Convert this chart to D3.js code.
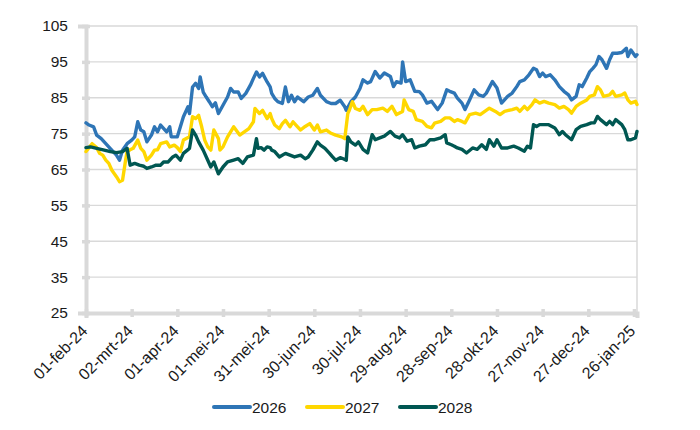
<!DOCTYPE html>
<html>
<head>
<meta charset="utf-8">
<script src="https://cdn.jsdelivr.net/npm/d3@7"></script>
<style>
  html, body { margin: 0; padding: 0; background: #ffffff; }
  svg { display: block; font-family: "Liberation Sans", Arial, sans-serif; }
</style>
</head>
<body>
<svg id="chart" width="700" height="430"></svg>
<script>
// ---------- data ----------
const seriesNames = ["2026", "2027", "2028"];

const dates2026 = ["2024-02-01","2024-02-03","2024-02-06","2024-02-08","2024-02-11","2024-02-14","2024-02-17","2024-02-21","2024-02-23","2024-02-25","2024-02-28","2024-03-02","2024-03-04","2024-03-06","2024-03-08","2024-03-10","2024-03-12","2024-03-15","2024-03-17","2024-03-19","2024-03-21","2024-03-25","2024-03-27","2024-03-28","2024-04-01","2024-04-03","2024-04-05","2024-04-08","2024-04-09","2024-04-11","2024-04-13","2024-04-15","2024-04-16","2024-04-18","2024-04-20","2024-04-22","2024-04-24","2024-04-26","2024-04-28","2024-05-01","2024-05-04","2024-05-06","2024-05-08","2024-05-11","2024-05-13","2024-05-16","2024-05-19","2024-05-21","2024-05-23","2024-05-25","2024-05-27","2024-05-30","2024-06-01","2024-06-02","2024-06-04","2024-06-06","2024-06-09","2024-06-11","2024-06-13","2024-06-15","2024-06-17","2024-06-19","2024-06-23","2024-06-26","2024-06-29","2024-07-02","2024-07-04","2024-07-08","2024-07-11","2024-07-14","2024-07-17","2024-07-20","2024-07-21","2024-07-24","2024-07-27","2024-07-30","2024-08-01","2024-08-04","2024-08-06","2024-08-09","2024-08-12","2024-08-15","2024-08-19","2024-08-21","2024-08-23","2024-08-26","2024-08-27","2024-08-29","2024-09-01","2024-09-04","2024-09-07","2024-09-09","2024-09-12","2024-09-15","2024-09-19","2024-09-22","2024-09-25","2024-09-27","2024-09-30","2024-10-02","2024-10-05","2024-10-07","2024-10-10","2024-10-13","2024-10-16","2024-10-19","2024-10-21","2024-10-25","2024-10-28","2024-10-31","2024-11-04","2024-11-07","2024-11-10","2024-11-12","2024-11-15","2024-11-18","2024-11-21","2024-11-23","2024-11-25","2024-11-27","2024-11-29","2024-12-02","2024-12-05","2024-12-08","2024-12-11","2024-12-14","2024-12-16","2024-12-19","2024-12-21","2024-12-23","2024-12-26","2024-12-28","2024-12-30","2025-01-01","2025-01-03","2025-01-05","2025-01-08","2025-01-10","2025-01-12","2025-01-15","2025-01-18","2025-01-21","2025-01-22","2025-01-24","2025-01-27","2025-01-28"];
const values2026 = [78,77.4,76.9,74.6,73.6,72.2,70.8,69,67.6,70.4,72.2,73.2,74.1,78.3,76,75.5,72.7,74.6,76.9,75.5,77.4,75.5,76.9,74.1,74.1,76.9,79.7,82.5,80.6,88,89,87.6,90.8,86.6,85.2,83.9,82.5,83.6,80.6,82.9,85.2,87.6,86.6,86.6,84.8,86.2,88.5,90.4,92.2,90.8,91.8,89.4,88,86.2,84.8,83.9,83.4,88,83.9,85.7,83.9,85.2,83.9,85.2,85.7,87.6,85.7,83.9,83.4,83.4,84.3,82.5,81.5,83.9,85.2,87.6,90,89.1,89.5,92.3,90.5,91.9,90.9,88.1,89.5,89.1,95,89.5,90,86.8,86.7,85.8,83.5,84,81.7,83.5,87.2,86.8,86.3,84.9,83.5,81.7,84.4,87.2,85.8,85.4,86.3,89.5,87.7,83.5,85.4,86.3,88.1,89.5,90,91.4,93.2,92.8,90.9,91.9,90.9,91.4,90,88.1,86.8,85.8,84.4,85.4,88.6,88.1,90.5,92.3,93.2,94.2,96.5,95.6,93.2,95.6,97.4,97.4,97.6,98.8,96.5,98.3,96.5,97];

const dates2027 = ["2024-02-01","2024-02-03","2024-02-05","2024-02-08","2024-02-10","2024-02-12","2024-02-14","2024-02-16","2024-02-18","2024-02-21","2024-02-23","2024-02-25","2024-02-27","2024-02-28","2024-03-01","2024-03-03","2024-03-06","2024-03-08","2024-03-10","2024-03-12","2024-03-15","2024-03-17","2024-03-19","2024-03-21","2024-03-25","2024-03-27","2024-03-30","2024-04-01","2024-04-03","2024-04-05","2024-04-09","2024-04-11","2024-04-13","2024-04-15","2024-04-17","2024-04-19","2024-04-21","2024-04-23","2024-04-25","2024-04-28","2024-04-29","2024-05-01","2024-05-04","2024-05-06","2024-05-08","2024-05-12","2024-05-15","2024-05-18","2024-05-21","2024-05-22","2024-05-25","2024-05-27","2024-05-30","2024-06-01","2024-06-02","2024-06-04","2024-06-07","2024-06-09","2024-06-11","2024-06-14","2024-06-16","2024-06-19","2024-06-21","2024-06-24","2024-06-27","2024-06-30","2024-07-02","2024-07-04","2024-07-08","2024-07-11","2024-07-14","2024-07-18","2024-07-20","2024-07-22","2024-07-23","2024-07-25","2024-07-27","2024-07-30","2024-08-01","2024-08-04","2024-08-07","2024-08-10","2024-08-14","2024-08-17","2024-08-20","2024-08-23","2024-08-27","2024-08-28","2024-08-31","2024-09-03","2024-09-05","2024-09-09","2024-09-12","2024-09-15","2024-09-17","2024-09-21","2024-09-24","2024-09-27","2024-09-30","2024-10-02","2024-10-05","2024-10-07","2024-10-10","2024-10-14","2024-10-17","2024-10-20","2024-10-23","2024-10-27","2024-10-30","2024-11-02","2024-11-07","2024-11-10","2024-11-12","2024-11-15","2024-11-17","2024-11-20","2024-11-22","2024-11-25","2024-11-28","2024-12-01","2024-12-05","2024-12-08","2024-12-11","2024-12-14","2024-12-16","2024-12-19","2024-12-22","2024-12-26","2024-12-28","2024-12-31","2025-01-02","2025-01-04","2025-01-06","2025-01-10","2025-01-12","2025-01-14","2025-01-18","2025-01-20","2025-01-22","2025-01-24","2025-01-27","2025-01-28"];
const values2027 = [70,71.1,72.2,71.1,69.5,69,67.6,66.7,64.8,63,61.6,62,67.6,70,70.5,70.9,73.2,70.9,70,67.6,69,70.4,70.5,72.2,72.7,71.3,71.8,71.1,70,73.2,74.1,79.7,79.2,80.1,76.9,73.2,71.3,70.4,76,73.6,70.4,71.3,74.1,75.5,76.9,74.6,75.5,76.4,78.3,82,80.6,81.5,79.2,80.6,79.2,77.4,76.4,77.8,78.7,76.9,78.3,76.9,76,77,77.8,76,77.4,75.5,76,75.1,74.6,74.1,73.6,80.6,81.5,83.9,82,81.5,82.6,80.3,81.7,81.7,82.1,81.2,82.6,80.3,81.2,84.4,81.7,81.2,78.9,78.4,77,76.6,77.9,78.4,79.4,79.4,78.4,78.9,78.4,78,80.3,80.7,80.3,81.2,82.1,81.2,80.3,81.2,81.7,82.1,81.2,82.6,81.7,83.1,84.4,83.5,84,83.5,83.1,82.1,82.6,81.7,80.7,82.6,83.5,84.4,85.4,85.8,88.1,87.2,85.4,85.8,86.8,85.4,85.8,86.3,84.4,83.5,84,83.1];

const dates2028 = ["2024-02-01","2024-02-04","2024-02-08","2024-02-13","2024-02-17","2024-02-21","2024-02-25","2024-02-28","2024-03-01","2024-03-04","2024-03-07","2024-03-10","2024-03-12","2024-03-15","2024-03-18","2024-03-21","2024-03-23","2024-03-26","2024-03-29","2024-03-31","2024-04-03","2024-04-05","2024-04-09","2024-04-11","2024-04-13","2024-04-15","2024-04-18","2024-04-21","2024-04-23","2024-04-25","2024-04-28","2024-05-01","2024-05-04","2024-05-08","2024-05-11","2024-05-14","2024-05-17","2024-05-21","2024-05-23","2024-05-24","2024-05-26","2024-05-28","2024-05-30","2024-06-01","2024-06-02","2024-06-04","2024-06-07","2024-06-11","2024-06-14","2024-06-17","2024-06-21","2024-06-24","2024-06-26","2024-06-29","2024-07-02","2024-07-04","2024-07-07","2024-07-10","2024-07-12","2024-07-14","2024-07-17","2024-07-19","2024-07-21","2024-07-22","2024-07-24","2024-07-27","2024-07-29","2024-07-30","2024-08-01","2024-08-04","2024-08-07","2024-08-09","2024-08-12","2024-08-15","2024-08-19","2024-08-22","2024-08-25","2024-08-27","2024-08-30","2024-09-02","2024-09-04","2024-09-07","2024-09-11","2024-09-14","2024-09-17","2024-09-21","2024-09-24","2024-09-25","2024-09-28","2024-09-30","2024-10-02","2024-10-05","2024-10-08","2024-10-12","2024-10-15","2024-10-18","2024-10-21","2024-10-23","2024-10-26","2024-10-28","2024-10-31","2024-11-04","2024-11-08","2024-11-11","2024-11-15","2024-11-17","2024-11-19","2024-11-21","2024-11-23","2024-11-25","2024-11-28","2024-12-01","2024-12-05","2024-12-08","2024-12-10","2024-12-12","2024-12-16","2024-12-19","2024-12-22","2024-12-26","2024-12-29","2024-12-31","2025-01-02","2025-01-04","2025-01-08","2025-01-10","2025-01-12","2025-01-14","2025-01-18","2025-01-20","2025-01-22","2025-01-24","2025-01-27","2025-01-28"];
const values2028 = [71.1,71.3,70.9,70.4,70,69.7,70,70.9,66.2,66.7,66.2,65.9,65.3,65.7,66.2,66.2,67.1,67.1,68.5,69,67.6,69.5,70.9,76,74.6,72.7,70.4,67.6,65.7,67.1,63.8,65.7,67.1,67.6,68,66.7,68.5,69,73.6,70.9,71.1,70.4,71.3,71.1,70.4,70,68.5,69.5,69,68.5,69,68,68.5,70.4,72.7,71.8,70.9,69.5,68.5,67.6,68.3,68,67.6,74.1,72.7,71.8,72.7,72,70.6,69.6,74.7,73.3,73.8,74.3,75.6,74.3,73.8,74.7,72.9,73.3,71,71.5,71.9,73.3,73.3,73.8,74.7,72.4,71.9,71.5,71,70.6,69.6,71,70.6,71.9,70.6,73.3,71.5,73.3,71,71,71.5,71,70.1,71.5,71,77.5,77,77.5,77.5,77.5,76.6,74.7,75.6,74.7,73.3,76.1,77,77.5,78,78,79.8,78.9,77.5,78.4,77.5,78.9,77.5,76.1,73.3,73.3,73.8,75.6];

const yTicks = [25, 35, 45, 55, 65, 75, 85, 95, 105];
const xTickDates = ["2024-02-01","2024-03-02","2024-04-01","2024-05-01","2024-05-31","2024-06-30","2024-07-30","2024-08-29","2024-09-28","2024-10-28","2024-11-27","2024-12-27","2025-01-26"];
const xTickLabels = ["01-feb-24","02-mrt-24","01-apr-24","01-mei-24","31-mei-24","30-jun-24","30-jul-24","29-aug-24","28-sep-24","28-okt-24","27-nov-24","27-dec-24","26-jan-25"];
const colors = ["#2E75B6", "#FFD700", "#005752"];

// ---------- chart ----------
const parse = d3.utcParse("%Y-%m-%d");
const svg = d3.select("#chart");
const L = 86, R = 637, T = 26, B = 313;

const x = d3.scaleUtc()
  .domain([parse("2024-02-01"), parse("2025-01-28")])
  .range([L, R]);
const y = d3.scaleLinear().domain([25, 105]).range([B, T]);

const grid = "#D9D9D9";

// gridlines
svg.append("g").selectAll("line").data(yTicks.filter(v => v > 25)).join("line")
  .attr("x1", L).attr("x2", R)
  .attr("y1", d => y(d)).attr("y2", d => y(d))
  .attr("stroke", grid).attr("stroke-width", 1.3);

// right border
svg.append("line").attr("x1", R).attr("x2", R).attr("y1", T).attr("y2", B)
  .attr("stroke", grid).attr("stroke-width", 1.5);

// y axis
const yAxis = d3.axisLeft(y).tickValues(yTicks).tickSize(8).tickPadding(10);
const gy = svg.append("g").attr("transform", `translate(${L},0)`).call(yAxis);
gy.select(".domain").attr("stroke", grid).attr("stroke-width", 4);
gy.selectAll(".tick line").attr("stroke", grid).attr("stroke-width", 3.5).attr("x2", 4).attr("x1", -4);
gy.selectAll(".tick text").attr("font-size", 15.5).attr("fill", "#1a1a1a")
  .attr("font-family", "'Liberation Sans', Arial, sans-serif");

// x axis
const xAxis = d3.axisBottom(x).tickValues(xTickDates.map(parse))
  .tickFormat((d, i) => xTickLabels[i]).tickSize(5);
const gx = svg.append("g").attr("transform", `translate(0,${B})`).call(xAxis);
gx.select(".domain").attr("stroke", grid).attr("stroke-width", 4);
gx.selectAll(".tick line").attr("stroke", grid).attr("stroke-width", 3.5).attr("y1", -4).attr("y2", 4);
gx.selectAll(".tick text")
  .attr("font-size", 16).attr("fill", "#1a1a1a")
  .attr("font-family", "'Liberation Sans', Arial, sans-serif")
  .attr("text-anchor", "end")
  .attr("dy", "0.35em")
  .attr("transform", "translate(-2,15) rotate(-45)")
  .attr("y", 0).attr("x", 0);

// lines
const allDates = [dates2026, dates2027, dates2028];
const allValues = [values2026, values2027, values2028];
const line = d3.line().x(d => x(d.date)).y(d => y(d.value));
const series = seriesNames.map((name, i) => ({
  name, color: colors[i],
  points: allDates[i].map((ds, j) => ({ date: parse(ds), value: allValues[i][j] }))
}));

svg.append("g").selectAll("path").data(series).join("path")
  .attr("d", d => line(d.points))
  .attr("fill", "none")
  .attr("stroke", d => d.color)
  .attr("stroke-width", 3.4)
  .attr("stroke-linejoin", "round")
  .attr("stroke-linecap", "round");

// legend
const legendX = [214, 307, 400];
const lg = svg.append("g").selectAll("g").data(series).join("g")
  .attr("transform", (d, i) => `translate(${legendX[i]},407)`);
lg.append("line").attr("x1", 0).attr("x2", 36).attr("y1", 0).attr("y2", 0)
  .attr("stroke", d => d.color).attr("stroke-width", 4).attr("stroke-linecap", "round");
lg.append("text").attr("x", 38).attr("y", 0).attr("dy", "0.36em")
  .attr("font-size", 15.5).attr("fill", "#1a1a1a").text(d => d.name);
</script>
</body>
</html>
